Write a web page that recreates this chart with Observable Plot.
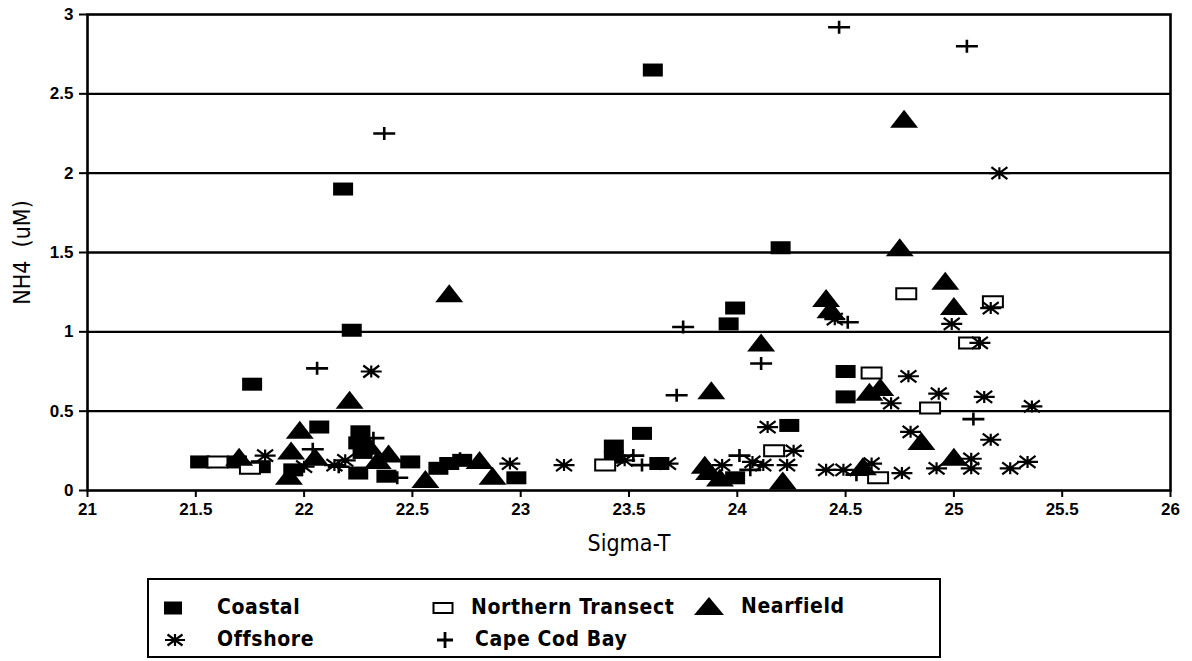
<!DOCTYPE html>
<html>
<head>
<meta charset="utf-8">
<script src="https://cdn.jsdelivr.net/npm/d3@7"></script>
<script src="https://cdn.jsdelivr.net/npm/@observablehq/plot@0.6"></script>
<style>
  body { margin: 0; background: #fff; }
  #wrap { position: relative; width: 1192px; height: 661px; overflow: hidden; }
  #chart svg { display: block; }
  #legend { position: absolute; left: 147px; top: 578px; width: 794px; height: 80px;
            border: 2px solid #000; box-sizing: border-box;
            font-family: "DejaVu Sans Condensed", "DejaVu Sans", sans-serif; font-size: 21px;
            font-weight: bold; letter-spacing: 0.6px; color: #000; }
  .sym { position: absolute; overflow: visible; }
  .lab { position: absolute; white-space: nowrap; line-height: 24px; }
</style>
</head>
<body>
<div id="wrap">
  <div id="chart"></div>
  <div id="legend"></div>
</div>
<script>
// NH4 concentration (uM) against density (Sigma-T), by station group
const seriesNames = ["Coastal", "Northern Transect", "Nearfield", "Offshore", "Cape Cod Bay"];

const coastalSigma = [22.18, 23.61, 24.20, 22.22, 21.76, 22.07, 21.52, 21.69, 21.80, 21.95,
                      22.26, 22.25, 22.27, 22.25, 22.38, 22.49, 22.62, 22.67, 22.73, 22.98,
                      23.43, 23.56, 23.43, 23.64, 23.99, 23.96, 24.50, 24.50, 23.99, 24.24];
const coastalNH4   = [1.90, 2.65, 1.53, 1.01, 0.67, 0.40, 0.18, 0.18, 0.15, 0.13,
                      0.37, 0.30, 0.24, 0.11, 0.09, 0.18, 0.14, 0.17, 0.19, 0.08,
                      0.28, 0.36, 0.21, 0.17, 1.15, 1.05, 0.75, 0.59, 0.08, 0.41];

const northernSigma = [21.60, 21.75, 23.39, 24.17, 24.62, 24.78, 25.18, 25.07, 24.89, 24.65];
const northernNH4   = [0.18, 0.14, 0.16, 0.25, 0.74, 1.24, 1.19, 0.93, 0.52, 0.08];

const nearfieldSigma = [24.77, 24.75, 22.67, 22.21, 21.98, 21.94, 21.70, 21.93, 22.05, 22.30,
                        22.39, 22.34, 22.56, 22.81, 22.87, 23.88, 24.11, 24.41, 24.43, 24.61,
                        24.66, 23.85, 23.87, 23.92, 24.21, 24.58, 24.96, 25.00, 24.85, 25.00];
const nearfieldNH4   = [2.33, 1.52, 1.23, 0.56, 0.37, 0.24, 0.20, 0.08, 0.20, 0.27,
                        0.22, 0.18, 0.06, 0.18, 0.08, 0.62, 0.92, 1.20, 1.13, 0.61,
                        0.64, 0.15, 0.11, 0.07, 0.05, 0.14, 1.31, 1.15, 0.30, 0.20];

const offshoreSigma = [25.21, 22.31, 21.82, 22.00, 22.14, 22.19, 22.95, 23.20, 23.48, 23.68,
                       23.93, 24.07, 24.14, 24.26, 24.12, 24.23, 24.41, 24.49, 24.62, 24.45,
                       24.99, 25.17, 25.12, 24.79, 24.71, 24.93, 25.14, 25.36, 24.80, 25.17,
                       25.08, 25.08, 24.92, 24.76, 25.26, 25.34];
const offshoreNH4   = [2.00, 0.75, 0.22, 0.15, 0.16, 0.19, 0.17, 0.16, 0.19, 0.17,
                       0.16, 0.18, 0.40, 0.25, 0.16, 0.16, 0.13, 0.13, 0.17, 1.08,
                       1.05, 1.15, 0.93, 0.72, 0.55, 0.61, 0.59, 0.53, 0.37, 0.32,
                       0.20, 0.14, 0.14, 0.11, 0.14, 0.18];

const capeCodSigma = [22.37, 24.47, 25.06, 22.06, 22.04, 22.32, 22.43, 22.72, 23.52, 23.56,
                      23.75, 23.72, 24.11, 24.51, 24.01, 24.06, 24.55, 25.09, 22.16];
const capeCodNH4   = [2.25, 2.92, 2.80, 0.77, 0.26, 0.33, 0.08, 0.20, 0.22, 0.16,
                      1.03, 0.60, 0.80, 1.06, 0.22, 0.13, 0.10, 0.45, 0.15];

const xTicks = [21, 21.5, 22, 22.5, 23, 23.5, 24, 24.5, 25, 25.5, 26];
const yTicks = [0, 0.5, 1, 1.5, 2, 2.5, 3];
const gridValues = [0.5, 1, 1.5, 2, 2.5];
const xLabel = "Sigma-T";
const yLabel = "NH4  (uM)";

const rows = (sigma, nh4) => sigma.map((s, i) => ({sigma: s, nh4: nh4[i]}));

// Marker shapes, in pixels (the size argument is not used)
const symBox = {draw(c) { c.rect(-10, -6.5, 20, 13); }};
const symOpenBox = {draw(c) { c.rect(-10, -5.5, 20, 11); }};
const symTriangle = {draw(c) { c.moveTo(0, -11); c.lineTo(14, 7); c.lineTo(-14, 7); c.closePath(); }};
const symStar = {draw(c) {
  c.moveTo(-10.5, 0); c.lineTo(10.5, 0);
  c.moveTo(-8, -6); c.lineTo(8, 6);
  c.moveTo(-8, 6); c.lineTo(8, -6);
  c.moveTo(0, -6); c.lineTo(0, 6);
}};
const symPlus = {draw(c) { c.moveTo(-11, 0); c.lineTo(11, 0); c.moveTo(0, -6.5); c.lineTo(0, 6.5); }};

const tickFont = {fontFamily: "Liberation Sans, Arial, sans-serif", fontWeight: 700, fontSize: 17};
const labelFont = {fontFamily: "DejaVu Sans Condensed, DejaVu Sans, sans-serif", fontSize: 23};

const chart = Plot.plot({
  width: 1192,
  height: 575,
  marginLeft: 87,
  marginRight: 22,
  marginTop: 14,
  marginBottom: 85,
  style: {background: "#fff", color: "#000", overflow: "visible"},
  x: {domain: [21, 26], ticks: xTicks},
  y: {domain: [0, 3], ticks: yTicks},
  marks: [
    Plot.ruleY(gridValues, {stroke: "#000", strokeWidth: 2.4}),
    Plot.frame({stroke: "#000", strokeWidth: 2.6}),
    Plot.axisX(xTicks, {tickSize: 7, tickPadding: 5, strokeWidth: 2, tickFormat: d => String(d), label: null, ...tickFont}),
    Plot.axisY(yTicks, {tickSize: 8, tickPadding: 6, strokeWidth: 2, tickFormat: d => String(d), label: null, ...tickFont}),
    Plot.text([xLabel], {text: d => d, frameAnchor: "bottom", dy: 60, ...labelFont}),
    Plot.text([yLabel], {text: d => d, frameAnchor: "left", textAnchor: "middle", dx: -65, rotate: -90, ...labelFont}),
    Plot.dot(rows(coastalSigma, coastalNH4), {x: "sigma", y: "nh4", symbol: symBox, fill: "#000", stroke: "none"}),
    Plot.dot(rows(northernSigma, northernNH4), {x: "sigma", y: "nh4", symbol: symOpenBox, fill: "#fff", stroke: "#000", strokeWidth: 2}),
    Plot.dot(rows(nearfieldSigma, nearfieldNH4), {x: "sigma", y: "nh4", symbol: symTriangle, fill: "#000", stroke: "none"}),
    Plot.dot(rows(offshoreSigma, offshoreNH4), {x: "sigma", y: "nh4", symbol: symStar, fill: "none", stroke: "#000", strokeWidth: 2.2}),
    Plot.dot(rows(capeCodSigma, capeCodNH4), {x: "sigma", y: "nh4", symbol: symPlus, fill: "none", stroke: "#000", strokeWidth: 2.6})
  ]
});
document.getElementById("chart").append(chart);

// Legend box below the chart: symbol centre (sx, sy) and label left edge (tx), relative to the box
const legendIcons = {
  "Coastal": '<rect x="-9" y="-6.5" width="18" height="13" fill="#000"/>',
  "Northern Transect": '<rect x="-9.5" y="-5" width="19" height="10" fill="#fff" stroke="#000" stroke-width="2"/>',
  "Nearfield": '<path d="M0,-10L15,8L-15,8Z" fill="#000"/>',
  "Offshore": '<path d="M-10,0H10M-7.5,-5.5L7.5,5.5M-7.5,5.5L7.5,-5.5M0,-6V6" stroke="#000" stroke-width="2.2" fill="none"/>',
  "Cape Cod Bay": '<path d="M-8,0H8M0,-8V8" stroke="#000" stroke-width="2.8" fill="none"/>'
};
const legendPos = {
  "Coastal":           {sx: 24,  sy: 28, tx: 68},
  "Northern Transect": {sx: 294, sy: 28, tx: 322},
  "Nearfield":         {sx: 560, sy: 27, tx: 592},
  "Offshore":          {sx: 26,  sy: 60, tx: 68},
  "Cape Cod Bay":      {sx: 296, sy: 60, tx: 326}
};
const legend = document.getElementById("legend");
for (const name of seriesNames) {
  const p = legendPos[name];
  const sym = document.createElementNS("http://www.w3.org/2000/svg", "svg");
  sym.setAttribute("class", "sym");
  sym.setAttribute("width", 40);
  sym.setAttribute("height", 30);
  sym.setAttribute("viewBox", "-20 -15 40 30");
  sym.style.left = (p.sx - 20) + "px";
  sym.style.top = (p.sy - 15) + "px";
  sym.innerHTML = legendIcons[name];
  const lab = document.createElement("div");
  lab.className = "lab";
  lab.style.left = p.tx + "px";
  lab.style.top = (p.sy - 13) + "px";
  lab.textContent = name;
  legend.append(sym, lab);
}
</script>
</body>
</html>
